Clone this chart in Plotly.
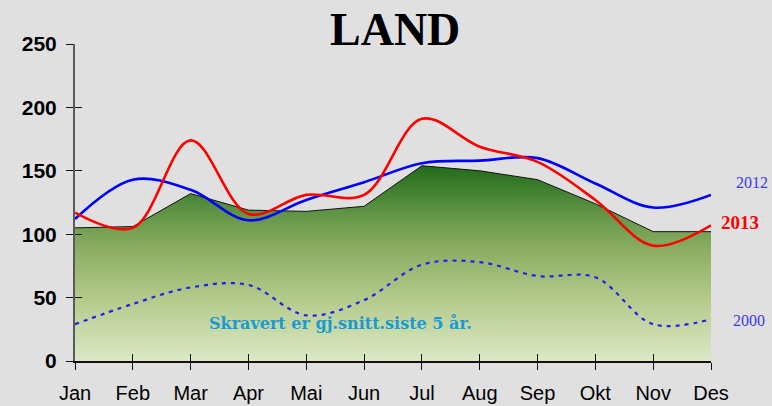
import plotly.graph_objects as go

months = ["Jan", "Feb", "Mar", "Apr", "Mai", "Jun", "Jul", "Aug", "Sep", "Okt", "Nov", "Des"]
avg5 = [105, 106, 132, 119, 118, 122, 154, 150, 143, 124, 102, 102]
y2012 = [112, 143, 135, 111, 127, 141, 156, 158, 160, 140, 121, 131]
y2013 = [117, 105, 174, 116, 131, 131, 191, 169, 157, 127, 91, 107]
y2000 = [29, 45, 58, 60, 36, 48, 76, 78, 67, 66, 29, 33]
yticks = [0, 50, 100, 150, 200, 250]

xs = list(range(len(months)))

fig = go.Figure()
fig.add_trace(go.Scatter(
    x=xs, y=avg5, mode="lines", fill="tozeroy",
    line=dict(color="#111111", width=1),
    fillgradient=dict(type="vertical", start=0, stop=max(avg5),
                      colorscale=[[0, "#dce8c6"], [0.3, "#b6cc8e"], [0.55, "#8fb066"],
                                  [0.72, "#6a9a4c"], [1, "#216b1a"]]),
    hoverinfo="skip", showlegend=False))
fig.add_trace(go.Scatter(x=xs, y=y2000, mode="lines",
                         line=dict(color="#2020ee", width=2.2, dash="4px,5px", shape="spline"),
                         showlegend=False))
fig.add_trace(go.Scatter(x=xs, y=y2012, mode="lines",
                         line=dict(color="#0000ff", width=2.6, shape="spline"),
                         showlegend=False))
fig.add_trace(go.Scatter(x=xs, y=y2013, mode="lines",
                         line=dict(color="#ff0000", width=2.6, shape="spline"),
                         showlegend=False))
# overlay axes for ticks crossing the axis lines
fig.add_trace(go.Scatter(x=[xs[0]], y=[yticks[0]], xaxis="x2", yaxis="y2",
                         mode="markers", marker=dict(opacity=0), showlegend=False,
                         hoverinfo="skip"))

fig.update_layout(
    width=772, height=406, autosize=False,
    margin=dict(l=75, r=61, t=44, b=45, pad=0, autoexpand=False),
    paper_bgcolor="#e0e0e0", plot_bgcolor="rgba(0,0,0,0)",
    xaxis=dict(range=[0, 11], tickvals=xs, ticktext=months, showgrid=False, zeroline=False,
               showline=True, linecolor="#111111", linewidth=1.5, automargin=False,
               ticks="outside", ticklen=7, tickwidth=1.2, tickcolor="#111111",
               ticklabelstandoff=6,
               tickfont=dict(family="Liberation Sans, Arial", size=20, color="#000000")),
    yaxis=dict(range=[0, 250], tickvals=yticks, showgrid=False, zeroline=False,
               showline=True, linecolor="#5a5a5a", linewidth=2, automargin=False,
               ticks="outside", ticklen=7, tickwidth=1.2, tickcolor="#111111",
               ticklabelstandoff=5,
               tickfont=dict(family="Liberation Sans, Arial", size=21, color="#000000",
                             weight="bold")),
    xaxis2=dict(range=[0, 11], tickvals=xs, overlaying="x", ticks="inside", ticklen=7,
                tickwidth=1.2, tickcolor="#111111", showticklabels=False, showgrid=False,
                zeroline=False, showline=False, anchor="y2", automargin=False),
    yaxis2=dict(range=[0, 250], tickvals=yticks, overlaying="y", ticks="inside", ticklen=7,
                tickwidth=1.2, tickcolor="#111111", showticklabels=False, showgrid=False,
                zeroline=False, showline=False, anchor="x2", automargin=False),
    annotations=[
        dict(text="LAND", xref="paper", yref="paper", x=0.503, y=1.045, xanchor="center",
             yanchor="middle", showarrow=False,
             font=dict(family="Liberation Serif, Times New Roman", size=46, color="#000000",
                       weight="bold")),
        dict(text="2012", xref="paper", yref="y", x=1.064, y=141, xanchor="center",
             yanchor="middle", showarrow=False,
             font=dict(family="Liberation Serif", size=16, color="#3a3ae6")),
        dict(text="2013", xref="paper", yref="y", x=1.045, y=109, xanchor="center",
             yanchor="middle", showarrow=False,
             font=dict(family="Liberation Serif", size=19, color="#ff0000", weight="bold")),
        dict(text="2000", xref="paper", yref="y", x=1.06, y=32, xanchor="center",
             yanchor="middle", showarrow=False,
             font=dict(family="Liberation Serif", size=16, color="#3a3ae6")),
        dict(text="Skravert er gj.snitt.siste 5 år.", xref="paper", yref="y", x=0.418, y=30,
             xanchor="center", yanchor="middle", showarrow=False,
             font=dict(family="DejaVu Serif", size=16, color="#1a9ad2", weight="bold")),
    ],
)

fig.write_html("out.html", config={"displayModeBar": False},
               post_script="document.body.style.margin='0';document.body.style.background='#e0e0e0';")
